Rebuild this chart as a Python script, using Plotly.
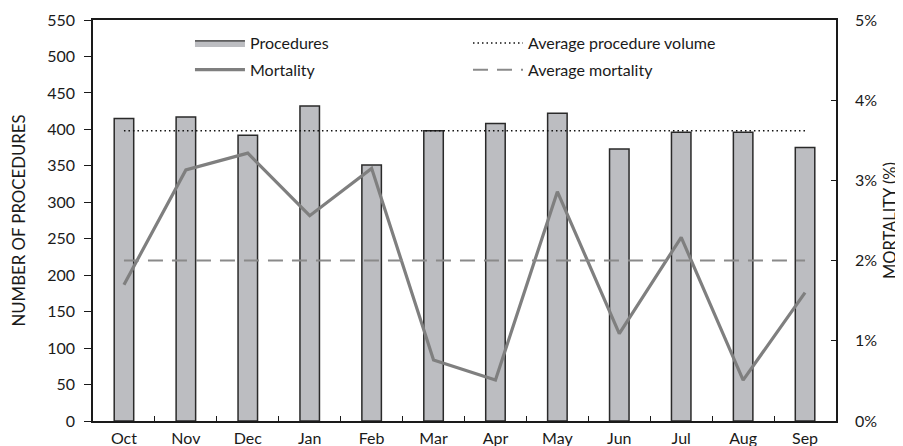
import plotly.graph_objects as go

months = ["Oct", "Nov", "Dec", "Jan", "Feb", "Mar", "Apr", "May", "Jun", "Jul", "Aug", "Sep"]
procedures = [415, 417, 392, 432, 351, 398, 408, 422, 373, 396, 396, 375]
mortality_pct = [1.70, 3.13, 3.34, 2.56, 3.15, 0.76, 0.51, 2.86, 1.09, 2.29, 0.51, 1.60]
avg_procedures = 398
avg_mortality_pct = 2.0

mortality = [v / 100 for v in mortality_pct]
FONT = "Lato"
BAR_FILL = "#bcbdc1"
BAR_EDGE = "#2a2a2a"

fig = go.Figure()
fig.add_trace(go.Bar(
    x=months, y=procedures, name="Procedures",
    marker=dict(color=BAR_FILL, line=dict(color=BAR_EDGE, width=1.5)),
    showlegend=False,
))
# legend entry for the bars (wide swatch like the original)
fig.add_trace(go.Scatter(
    x=[None], y=[None], name="Procedures", mode="lines", fill="toself",
    fillcolor=BAR_FILL, line=dict(color=BAR_EDGE, width=1.2),
    legend="legend", legendgroup="a",
))
fig.add_trace(go.Scatter(
    x=months, y=mortality, name="Mortality", yaxis="y2", mode="lines",
    line=dict(color="#7f7f7f", width=3.2),
    legend="legend", legendgroup="b",
))
fig.add_trace(go.Scatter(
    x=months, y=[avg_procedures] * len(months), name="Average procedure volume",
    mode="lines", line=dict(color="#111111", width=1.5, dash="1.5px,3px"),
    legend="legend2", legendgroup="c",
))
fig.add_trace(go.Scatter(
    x=months, y=[avg_mortality_pct / 100] * len(months), name="Average mortality",
    yaxis="y2", mode="lines", line=dict(color="#8a8a8a", width=2, dash="15px,9px"),
    legend="legend2", legendgroup="d",
))

fig.update_layout(
    width=895, height=438,
    margin=dict(l=85, r=67, t=12, b=25),
    plot_bgcolor="white", paper_bgcolor="white",
    font=dict(family=FONT, size=16, color="#1a1a1a"),
    bargap=0.685,
    xaxis=dict(
        type="category", showline=True, linecolor="#1a1a1a", linewidth=1.5, mirror=True,
        ticks="inside", tickson="boundaries", ticklen=5, tickcolor="#1a1a1a",
        showgrid=False, tickfont=dict(size=16), automargin=False, ticklabelstandoff=2,
    ),
    yaxis=dict(
        range=[0, 550], dtick=50, showline=True, linecolor="#1a1a1a", linewidth=1.5,
        ticks="outside", ticklen=7, tickcolor="#1a1a1a", showgrid=False, zeroline=False,
        title=dict(text="NUMBER OF PROCEDURES", font=dict(size=16.8), standoff=20),
        tickfont=dict(size=16), automargin=False, ticklabelstandoff=6,
    ),
    yaxis2=dict(
        overlaying="y", side="right", range=[0, 0.05], dtick=0.01, tickformat=".0%",
        showline=True, linecolor="#1a1a1a", linewidth=1.5, ticks="inside", ticklen=5,
        tickcolor="#1a1a1a", showgrid=False, zeroline=False,
        title=dict(text="MORTALITY (%)", font=dict(size=16.5), standoff=8),
        tickfont=dict(size=16), automargin=False, ticklabelstandoff=14,
    ),
    legend=dict(
        x=0.1305, y=0.985, xanchor="left", yanchor="top", bgcolor="rgba(0,0,0,0)",
        font=dict(size=16), tracegroupgap=3, itemwidth=50,
    ),
    legend2=dict(
        x=0.5047, y=0.985, xanchor="left", yanchor="top", bgcolor="rgba(0,0,0,0)",
        font=dict(size=16), tracegroupgap=3, itemwidth=50,
    ),
)

fig.write_html("out.html")
